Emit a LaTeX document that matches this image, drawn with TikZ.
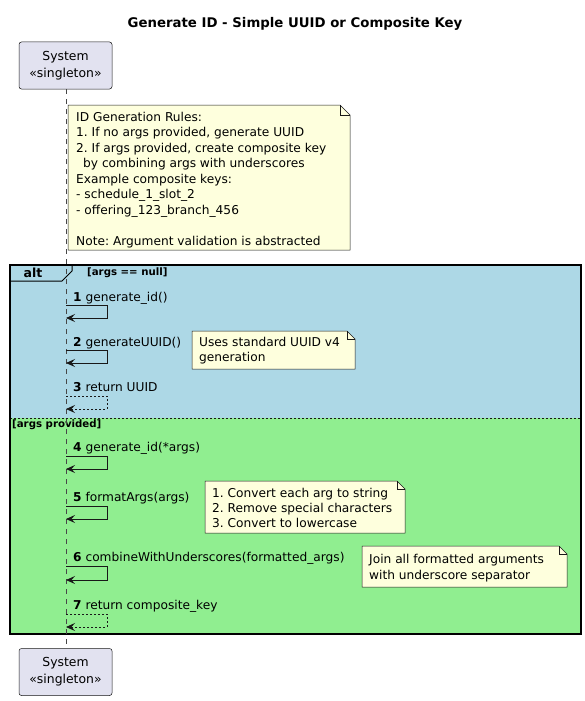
\documentclass[tikz,border=0pt]{standalone}
\usepackage{fontspec}
\setmainfont{DejaVu Sans}
\usetikzlibrary{arrows.meta}
\frenchspacing

\definecolor{partfill}{HTML}{E2E2F0}
\definecolor{ink}{HTML}{181818}
\definecolor{notefill}{HTML}{FEFFDD}
\definecolor{altblue}{HTML}{ADD8E6}
\definecolor{altgreen}{HTML}{90EE90}

\tikzset{
  participant/.style={draw=ink, line width=0.5pt, fill=partfill, rounded corners=2.5pt,
    minimum width=93pt, minimum height=47pt, align=center, inner sep=0pt,
    font=\fontsize{12.4}{17}\selectfont},
  lifeline/.style={draw=ink!80, line width=0.5pt, dash pattern=on 5pt off 5pt},
  msg/.style={draw=ink, line width=0.9pt, -{Stealth[length=9pt,width=8pt,inset=3.5pt]}},
  ret/.style={msg, line width=0.8pt, dash pattern=on 2pt off 2pt},
  msglabel/.style={anchor=base west, inner sep=0pt, font=\fontsize{12.2}{15}\selectfont},
  notebox/.style={draw=ink, line width=0.5pt, fill=notefill},
  notefold/.style={draw=ink, line width=0.5pt},
  notetext/.style={anchor=north west, inner sep=0pt, align=left,
    font=\fontsize{12.2}{15.5}\selectfont},
  guard/.style={anchor=west, inner sep=0pt, font=\bfseries\fontsize{10.2}{12}\selectfont},
}

\begin{document}
\begin{tikzpicture}[x=1pt, y=-1pt]
\useasboundingbox (0,0) rectangle (585,701);
\fill[white] (0,0) rectangle (585,701);

% title
\node[font=\bfseries\fontsize{13.3}{16}\selectfont] (title) at (295,24)
  {Generate ID - Simple UUID or Composite Key};

% alt fragment: two operands
\fill[altblue] (10,265) rectangle (581,418);
\fill[altgreen] (10,418) rectangle (581,634);
\draw[ink, line width=0.6pt, dash pattern=on 2pt off 2pt] (10,418) -- (581,418);
\draw[black, line width=1.5pt] (10,265) rectangle (581,634);
\draw[black, line width=1pt] (10,265) -- (72,265) -- (72,271) -- (62,281) -- (10,281);
\node[font=\bfseries\fontsize{12.5}{14}\selectfont, inner sep=0pt] (altlbl) at (33,273) {alt};
\node[guard] (g1) at (87,273) {[args == null]};
\node[guard] (g2) at (12,425) {[args provided]};

% participants and lifeline
\node[participant] (ptop) at (65.5,65.5) {System\\«singleton»};
\node[participant] (pbot) at (65.5,672) {System\\«singleton»};
\draw[lifeline] (ptop.south -| 66,0) -- (pbot.north -| 66,0);

% first note
\draw[notebox] (68,105) -- (340,105) -- (350,115) -- (350,250) -- (68,250) -- cycle;
\draw[notefold] (340,105) -- (340,115) -- (350,115);
\node[notetext] (rules) at (76,112) {ID Generation Rules:\\
1. If no args provided, generate UUID\\
2. If args provided, create composite key\\
\hspace*{7pt}by combining args with underscores\\
Example composite keys:\\
- schedule\_1\_slot\_2\\
- offering\_123\_branch\_456\\[15.5pt]
Note: Argument validation is abstracted};

% self messages
\coordinate (m1s) at (66,305); \coordinate (m1e) at (66,318);
\coordinate (m2s) at (66,350); \coordinate (m2e) at (66,363);
\coordinate (m3s) at (66,396); \coordinate (m3e) at (66,409);
\coordinate (m4s) at (66,456); \coordinate (m4e) at (66,469);
\coordinate (m5s) at (66,506); \coordinate (m5e) at (66,519);
\coordinate (m6s) at (66,566); \coordinate (m6e) at (66,580);
\coordinate (m7s) at (66,614); \coordinate (m7e) at (66,627);

\draw[msg] (m1s) -- ++(41,0) |- (m1e);
\draw[msg] (m2s) -- ++(41,0) |- (m2e);
\draw[ret] (m3s) -- ++(41,0) |- (m3e);
\draw[msg] (m4s) -- ++(41,0) |- (m4e);
\draw[msg] (m5s) -- ++(41,0) |- (m5e);
\draw[msg] (m6s) -- ++(41,0) |- (m6e);
\draw[ret] (m7s) -- ++(41,0) |- (m7e);

\node[msglabel] (l1) at (73,301) {\textbf{1} generate\_id()};
\node[msglabel] (l2) at (73,346) {\textbf{2} generateUUID()};
\node[msglabel] (l3) at (73,391) {\textbf{3} return UUID};
\node[msglabel] (l4) at (73,451) {\textbf{4} generate\_id(*args)};
\node[msglabel] (l5) at (73,501) {\textbf{5} formatArgs(args)};
\node[msglabel] (l6) at (73,561) {\textbf{6} combineWithUnderscores(formatted\_args)};
\node[msglabel] (l7) at (73,609) {\textbf{7} return composite\_key};

% notes beside the messages
\draw[notebox] (192,331) -- (347,331) -- (355,339) -- (355,369) -- (192,369) -- cycle;
\draw[notefold] (347,331) -- (347,339) -- (355,339);
\node[notetext] (uuidnote) at (199,337) {Uses standard UUID v4\\generation};

\draw[notebox] (205,481) -- (397,481) -- (405,489) -- (405,533) -- (205,533) -- cycle;
\draw[notefold] (397,481) -- (397,489) -- (405,489);
\node[notetext, font=\fontsize{12.2}{15}\selectfont] (fmtnote) at (212,488)
  {1. Convert each arg to string\\2. Remove special characters\\3. Convert to lowercase};

\draw[notebox] (362,546) -- (559,546) -- (567,554) -- (567,587) -- (362,587) -- cycle;
\draw[notefold] (559,546) -- (559,554) -- (567,554);
\node[notetext, font=\fontsize{12.2}{16}\selectfont] (joinnote) at (369,554)
  {Join all formatted arguments\\with underscore separator};
\end{tikzpicture}
\end{document}
